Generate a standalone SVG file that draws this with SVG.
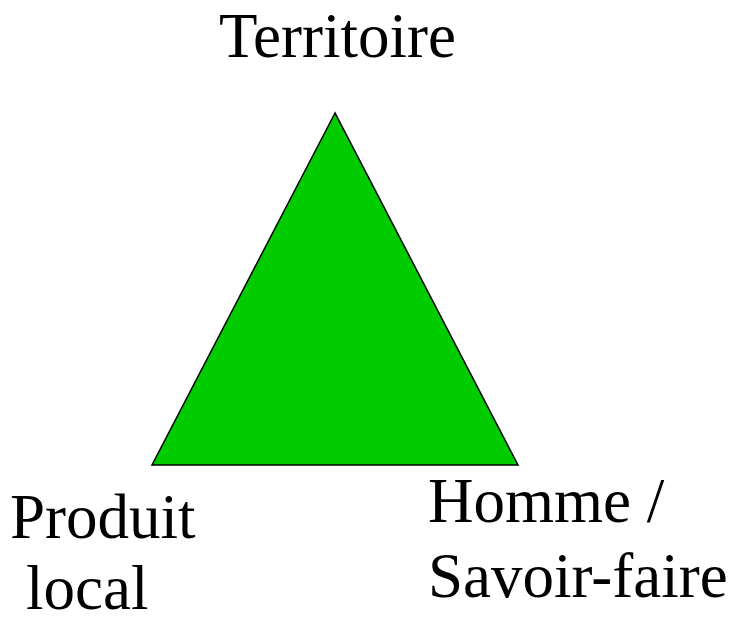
<svg xmlns="http://www.w3.org/2000/svg" width="736" height="617" viewBox="0 0 736 617">
<style>
.lbl{font-family:"Liberation Serif","Times New Roman",serif;font-size:63px;fill:#000}
</style>
<rect width="736" height="617" fill="#fff"/>
<g id="triangle">
<polygon points="335,113 152,465 518,465" fill="#00CC00" stroke="#000" stroke-width="1.5" stroke-linejoin="miter"/>
</g>
<g id="territoire"><text class="lbl" x="219" y="57">Territoire</text></g>
<g id="produit"><text class="lbl" x="10" y="538">Produit</text><text class="lbl" x="26" y="609">local</text></g>
<g id="homme"><text class="lbl" x="428" y="522">Homme /</text><text class="lbl" x="428" y="597">Savoir-faire</text></g>
</svg>
